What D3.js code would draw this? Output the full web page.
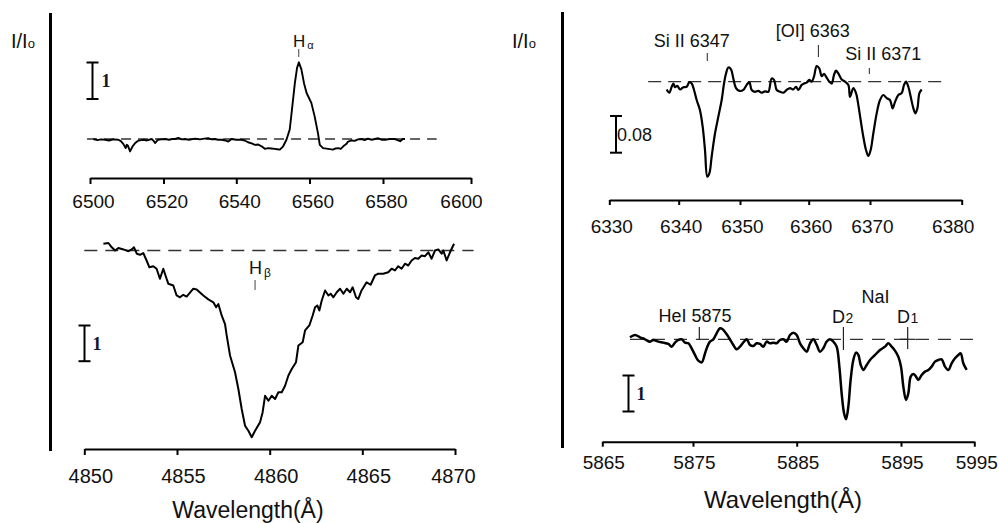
<!DOCTYPE html>
<html>
<head>
<meta charset="utf-8">
<script src="https://cdn.jsdelivr.net/npm/d3@7"></script>
<style>
  html, body { margin: 0; padding: 0; background: #fff; }
  svg { display: block; font-family: "Liberation Sans", Arial, sans-serif; }
</style>
</head>
<body>
<svg id="chart" width="999" height="523"></svg>
<script>
// ---- H-alpha region (relative intensity, continuum = 1) ----
const haWave = [6500.9,6502.0,6503.0,6504.1,6505.2,6506.3,6507.7,6508.4,6509.1,6509.7,6510.0,6510.3,6510.9,6511.6,6512.3,6513.2,6514.0,6514.6,6515.5,6516.8,6517.3,6517.7,6518.5,6519.4,6520.5,6521.5,6522.4,6523.2,6524.1,6525.0,6525.9,6527.0,6528.7,6530.0,6531.2,6532.3,6533.2,6534.1,6535.0,6536.0,6537.0,6537.8,6538.7,6540.0,6541.4,6542.3,6543.2,6544.2,6545.1,6546.0,6546.9,6547.8,6548.7,6549.6,6550.5,6551.2,6551.9,6552.8,6553.7,6554.6,6555.2,6556.0,6556.6,6557.1,6557.8,6558.5,6559.2,6560.5,6561.4,6562.3,6562.8,6563.7,6565.1,6566.4,6567.1,6567.8,6568.5,6569.2,6570.0,6570.5,6571.5,6572.3,6573.2,6574.2,6575.0,6575.9,6576.9,6577.8,6578.7,6579.6,6580.5,6581.5,6582.7,6583.3,6583.9,6584.5,6585.0];
const haFlux = [1.00,0.97,0.99,0.98,0.96,0.99,0.98,0.94,0.86,0.75,0.84,0.82,0.66,0.80,0.89,0.96,0.97,0.98,0.96,1.00,0.95,0.89,0.98,0.99,1.00,0.98,1.00,1.00,1.03,0.99,1.00,0.98,1.01,0.99,1.01,1.02,0.99,1.00,0.98,0.98,0.96,0.93,1.00,0.98,0.98,0.96,0.91,0.88,0.84,0.85,0.80,0.73,0.75,0.74,0.73,0.72,0.71,0.80,0.98,1.26,1.80,2.53,2.95,3.10,2.90,2.53,2.26,1.99,1.62,1.16,0.84,0.75,0.73,0.71,0.74,0.75,0.73,0.80,0.86,0.93,0.96,0.95,0.99,1.00,0.97,1.01,0.98,1.00,1.02,0.98,0.98,1.00,1.00,0.97,0.94,1.00,1.00];

// ---- H-beta region ----
const hbWave = [4851.03,4851.30,4851.48,4851.66,4851.84,4852.11,4852.38,4852.56,4852.68,4852.83,4853.01,4853.18,4853.36,4853.51,4853.72,4853.90,4854.08,4854.26,4854.41,4854.53,4854.80,4854.98,4855.16,4855.34,4855.52,4855.88,4856.06,4856.42,4856.69,4856.96,4857.11,4857.23,4857.41,4857.59,4857.68,4857.86,4858.13,4858.31,4858.49,4858.67,4858.85,4859.03,4859.21,4859.48,4859.62,4859.75,4859.93,4860.11,4860.29,4860.47,4860.65,4860.83,4861.01,4861.19,4861.42,4861.55,4861.78,4861.91,4862.14,4862.32,4862.45,4862.57,4862.68,4862.81,4862.99,4863.17,4863.29,4863.44,4863.62,4863.80,4863.98,4864.16,4864.34,4864.48,4864.66,4864.78,4864.96,4865.23,4865.45,4865.68,4865.86,4866.13,4866.40,4866.58,4866.76,4866.94,4867.12,4867.30,4867.48,4867.66,4867.84,4868.02,4868.20,4868.38,4868.56,4868.74,4868.92,4869.10,4869.28,4869.37,4869.55,4869.73,4869.95];
const hbFlux = [1.19,1.21,1.09,1.00,1.07,1.03,0.98,1.03,1.09,0.91,0.88,0.93,0.72,0.53,0.56,0.49,0.21,0.49,0.25,0.07,0.02,-0.26,-0.31,-0.24,-0.29,-0.07,-0.09,-0.26,-0.37,-0.45,-0.59,-0.50,-0.82,-1.06,-1.38,-1.94,-2.41,-2.88,-3.44,-3.91,-4.05,-4.23,-4.05,-3.81,-3.53,-3.07,-3.21,-3.07,-3.16,-2.97,-2.97,-2.79,-2.50,-2.32,-2.13,-1.66,-1.57,-1.24,-1.10,-0.82,-0.59,-0.54,-0.68,-0.40,-0.12,-0.26,-0.21,-0.31,-0.17,-0.07,-0.21,-0.07,-0.17,-0.03,-0.31,-0.36,-0.12,0.11,0.04,0.30,0.35,0.35,0.39,0.49,0.44,0.56,0.49,0.63,0.58,0.72,0.79,0.77,0.86,0.84,0.95,0.77,1.00,1.03,0.91,1.00,0.72,0.95,1.19];

// ---- Si II / [O I] region (I/I0) ----
const siWave = [6338.27,6338.65,6338.99,6339.23,6339.47,6339.80,6340.21,6340.76,6341.30,6341.73,6342.12,6342.50,6342.93,6343.47,6343.91,6344.29,6344.67,6345.00,6345.38,6345.92,6346.47,6347.01,6347.39,6347.72,6348.10,6348.53,6348.91,6349.35,6349.89,6350.48,6350.97,6351.36,6351.70,6352.18,6352.67,6353.15,6353.64,6354.12,6354.61,6354.95,6355.34,6355.82,6356.31,6356.79,6357.28,6357.76,6358.15,6358.49,6358.98,6359.32,6359.70,6360.10,6360.48,6360.86,6361.30,6361.73,6362.12,6362.50,6362.93,6363.37,6363.75,6364.13,6364.45,6364.83,6365.38,6365.92,6366.47,6366.74,6367.28,6367.72,6368.10,6368.48,6368.91,6369.35,6369.73,6370.07,6370.36,6370.73,6371.09,6371.45,6371.82,6372.18,6372.47,6372.73,6373.09,6373.45,6373.71,6373.93,6374.18,6374.44,6374.73,6374.95,6375.17,6375.39,6375.64];
const siFlux = [0.983,0.976,0.989,0.996,0.988,0.991,0.983,0.988,0.989,0.999,0.996,0.982,0.960,0.938,0.902,0.851,0.793,0.800,0.837,0.887,0.924,0.960,0.996,1.018,1.031,1.027,1.007,0.986,0.980,0.982,0.993,0.999,0.982,0.978,0.980,0.976,0.979,0.978,1.007,1.004,0.982,0.978,0.976,0.982,0.986,0.983,0.989,0.982,0.993,0.996,0.998,1.004,1.000,1.011,1.034,1.029,1.012,1.017,1.009,1.000,0.996,1.015,1.024,1.018,1.005,1.000,0.993,0.967,0.986,0.975,0.949,0.916,0.880,0.851,0.838,0.851,0.887,0.931,0.960,0.971,0.964,0.960,0.942,0.956,0.971,0.975,0.993,1.000,0.989,0.967,0.942,0.931,0.942,0.975,0.983];

// ---- He I / Na I D region ----
const naWave = [5868.05,5868.61,5869.16,5869.71,5870.26,5870.63,5871.18,5871.73,5872.28,5872.65,5873.02,5873.38,5873.75,5874.12,5874.49,5874.85,5875.19,5875.51,5875.84,5876.16,5876.38,5876.64,5876.96,5877.28,5877.60,5877.86,5878.18,5878.50,5878.89,5879.21,5879.53,5879.92,5880.18,5880.50,5880.82,5881.14,5881.46,5881.78,5882.10,5882.43,5882.75,5883.07,5883.39,5883.71,5884.03,5884.35,5884.68,5885.00,5885.32,5885.64,5885.96,5886.28,5886.60,5886.92,5887.23,5887.55,5887.87,5888.19,5888.51,5888.83,5889.09,5889.31,5889.54,5889.73,5889.95,5890.17,5890.43,5890.69,5890.91,5891.14,5891.39,5891.71,5892.03,5892.51,5892.99,5893.47,5893.79,5894.11,5894.42,5894.74,5895.00,5895.32,5895.68,5896.00,5896.32,5896.68,5897.05,5897.36,5897.82,5898.27,5898.73,5899.18,5899.64,5900.09,5900.55,5901.00,5901.46,5901.91,5902.37,5902.82,5903.14,5903.50,5903.96];
const naFlux = [1.056,1.120,1.056,1.000,0.935,0.981,0.935,0.907,0.870,0.796,0.907,0.981,1.000,0.907,0.889,0.750,0.565,0.407,0.361,0.611,0.796,0.935,1.000,1.167,1.306,1.278,1.167,1.028,0.843,0.722,0.796,0.935,1.000,0.843,0.815,0.889,0.870,0.796,0.935,0.889,0.907,0.889,0.981,1.000,0.935,1.120,1.185,1.120,0.889,0.750,0.657,0.889,1.000,0.843,0.657,0.750,0.935,1.000,0.935,0.796,0.241,-0.500,-1.056,-1.222,-0.870,-0.130,0.426,0.630,0.565,0.287,0.148,0.287,0.426,0.565,0.704,0.796,0.889,0.796,0.685,0.519,0.241,-0.315,-0.685,-0.500,-0.037,0.037,-0.037,-0.130,0.009,0.102,0.148,0.241,0.380,0.426,0.444,0.241,0.148,0.333,0.472,0.565,0.611,0.333,0.148];

// ---- axis ticks ----
const haTicks = [6500, 6520, 6540, 6560, 6580, 6600];
const hbTicks = [4850, 4855, 4860, 4865, 4870];
const siTicks = [6330, 6340, 6350, 6360, 6370, 6380];
const naTicks = [5865, 5875, 5885, 5895, 5905];
const haTickLabels = ["6500", "6520", "6540", "6560", "6580", "6600"];
const hbTickLabels = ["4850", "4855", "4860", "4865", "4870"];
const siTickLabels = ["6330", "6340", "6350", "6360", "6370", "6380"];
const naTickLabels = ["5865", "5875", "5885", "5895", "5995"];

// ---- line identifications (observed positions, Angstrom) ----
const siLineNames = ["Si II 6347", "[OI] 6363", "Si II 6371"];
const siLineWave = [6344.66, 6361.58, 6369.89];
const naLineNames = ["HeI 5875", "D2", "D1"];
const naLineWave = [5875.61, 5889.48, 5895.91];
const haLineWave = 6557.07;
const hbLineWave = 4859.21;

const svg = d3.select("#chart");
const INK = "#111";

function drawPanel(p) {
  const x = d3.scaleLinear().domain(p.ticks).range(p.tickPx);
  const y = d3.scaleLinear().domain([1 - p.unit, 1]).range([p.contY + p.unitPx, p.contY]);

  // continuum level
  svg.append("line")
    .attr("x1", x(p.dash[0])).attr("x2", x(p.dash[1]))
    .attr("y1", y(1)).attr("y2", y(1))
    .attr("stroke", "#333").attr("stroke-width", 1.3)
    .attr("stroke-dasharray", p.dashArray);

  // spectrum
  const line = d3.line().x(d => x(d[0])).y(d => y(d[1])).curve(p.curve);
  svg.append("path")
    .datum(d3.zip(p.wave, p.flux))
    .attr("d", line)
    .attr("fill", "none")
    .attr("stroke", "#000")
    .attr("stroke-width", p.lineWidth)
    .attr("stroke-linejoin", "round");

  // wavelength axis
  const axis = d3.axisBottom(x)
    .tickValues(p.ticks)
    .tickFormat((d, i) => p.tickLabels[i])
    .tickSize(p.tickSize)
    .tickSizeOuter(0)
    .tickPadding(p.pad);
  const g = svg.append("g")
    .attr("transform", `translate(0,${p.axisY})`)
    .call(axis)
    .attr("font-family", null)
    .attr("font-size", p.fontSize);
  g.select(".domain").attr("stroke", "#000").attr("stroke-width", 2);
  g.selectAll(".tick line").attr("stroke", "#000").attr("stroke-width", 2);
  g.selectAll(".tick text")
    .attr("fill", INK)
    .attr("dx", (d, i, n) => i === n.length - 1 ? p.lastDx : p.labelDx);

  // intensity scale bar
  const barLen = y(1 - p.unit) - y(1);
  const bar = svg.append("g").attr("stroke", "#000").attr("stroke-width", 2);
  bar.append("line").attr("x1", p.bar.x).attr("x2", p.bar.x).attr("y1", p.bar.top).attr("y2", p.bar.top + barLen);
  [p.bar.top, p.bar.top + barLen].forEach(v =>
    bar.append("line").attr("x1", p.bar.x - 6).attr("x2", p.bar.x + 6).attr("y1", v).attr("y2", v));
  const bl = svg.append("text")
    .attr("x", p.bar.x + p.bar.labelDx)
    .attr("y", p.bar.top + barLen / 2)
    .attr("dy", "0.35em")
    .attr("fill", p.bar.serif ? "#14142b" : INK)
    .attr("font-size", 18)
    .text(p.bar.label);
  if (p.bar.serif) bl.attr("font-family", "'Liberation Serif', 'DejaVu Serif', serif").attr("font-weight", "bold");

  return { x, y };
}

// left axis frame lines
svg.append("line").attr("x1", 50.5).attr("x2", 50.5).attr("y1", 13).attr("y2", 451)
  .attr("stroke", "#000").attr("stroke-width", 3);
svg.append("line").attr("x1", 562.5).attr("x2", 562.5).attr("y1", 12).attr("y2", 448)
  .attr("stroke", "#000").attr("stroke-width", 3);

// I/I0 labels
function ratioLabel(xp) {
  const t = svg.append("text").attr("x", xp).attr("y", 48).attr("font-size", 20).attr("fill", INK).text("I/I");
  t.append("tspan").attr("font-size", 13).attr("dy", 0).text("o");
}
ratioLabel(11);
ratioLabel(512);

// ---- panel: H-alpha ----
const pa = drawPanel({
  wave: haWave, flux: haFlux, ticks: haTicks, tickLabels: haTickLabels,
  tickPx: [90, 163.5, 236.3, 309.5, 383, 471],
  contY: 139, unitPx: 36.5, unit: 1,
  dash: [6499.2, 6592.2], dashArray: "10,7",
  curve: d3.curveLinear, lineWidth: 1.9,
  axisY: 178, tickSize: 6, pad: 11, fontSize: 19, labelDx: 3, lastDx: -10,
  bar: { x: 92.5, top: 62.5, label: "1", labelDx: 9, serif: true }
});
svg.append("line").attr("x1", pa.x(haLineWave)).attr("x2", pa.x(haLineWave))
  .attr("y1", 49).attr("y2", 57).attr("stroke", "#444").attr("stroke-width", 1);
const haLbl = svg.append("text").attr("x", 293).attr("y", 47).attr("font-size", 17).attr("fill", INK).text("H");
haLbl.append("tspan").attr("font-size", 11).attr("dx", 2).attr("dy", 2).text("α");

// ---- panel: H-beta ----
const pb = drawPanel({
  wave: hbWave, flux: hbFlux, ticks: hbTicks, tickLabels: hbTickLabels,
  tickPx: [84.3, 177, 269.7, 362.3, 455],
  contY: 250.5, unitPx: 35.7, unit: 1,
  dash: [4850, 4871], dashArray: "13,8",
  curve: d3.curveLinear, lineWidth: 2,
  axisY: 449, tickSize: 6, pad: 14, fontSize: 20, labelDx: 6, lastDx: -2,
  bar: { x: 84.5, top: 325.5, label: "1", labelDx: 8, serif: true }
});
svg.append("line").attr("x1", pb.x(hbLineWave)).attr("x2", pb.x(hbLineWave))
  .attr("y1", 280).attr("y2", 290).attr("stroke", "#444").attr("stroke-width", 1);
const hbLbl = svg.append("text").attr("x", 249).attr("y", 274).attr("font-size", 18).attr("fill", INK).text("H");
hbLbl.append("tspan").attr("font-size", 12).attr("dx", 2).attr("dy", 3).text("β");

// ---- panel: Si II ----
const pc = drawPanel({
  wave: siWave, flux: siFlux, ticks: siTicks, tickLabels: siTickLabels,
  tickPx: [609.3, 678.7, 740, 808.7, 870, 961.7],
  contY: 81.7, unitPx: 36.7, unit: 0.08,
  dash: [6335.6, 6378.1], dashArray: "13,7",
  curve: d3.curveCatmullRom.alpha(0.5), lineWidth: 2.2,
  axisY: 200, tickSize: 5, pad: 15, fontSize: 19, labelDx: 2, lastDx: -9,
  bar: { x: 616, top: 116, label: "0.08", labelDx: 1, serif: false }
});
const siMarks = [[53, 61], [45, 57], [68, 74]];
const siText = [[691.8, 47], [812.8, 37], [883.3, 60]];
siLineWave.forEach((w, i) => {
  svg.append("line").attr("x1", pc.x(w)).attr("x2", pc.x(w))
    .attr("y1", siMarks[i][0]).attr("y2", siMarks[i][1]).attr("stroke", "#222").attr("stroke-width", 1);
  svg.append("text").attr("x", siText[i][0]).attr("y", siText[i][1]).attr("text-anchor", "middle")
    .attr("font-size", 18).attr("fill", INK).text(siLineNames[i]);
});

// ---- panel: Na I D ----
const pd = drawPanel({
  wave: naWave, flux: naFlux, ticks: naTicks, tickLabels: naTickLabels,
  tickPx: [602.3, 693, 796.7, 901, 974.3],
  contY: 339.3, unitPx: 36, unit: 1,
  dash: [5868.05, 5904.9], dashArray: "13,9",
  curve: d3.curveCatmullRom.alpha(0.5), lineWidth: 2.5,
  axisY: 441.7, tickSize: 5, pad: 9, fontSize: 19, labelDx: 1, lastDx: 2,
  bar: { x: 628.5, top: 375.5, label: "1", labelDx: 8, serif: true }
});
const naMarks = [[327, 340], [327, 350], [327, 349]];
naLineWave.forEach((w, i) => {
  svg.append("line").attr("x1", pd.x(w)).attr("x2", pd.x(w))
    .attr("y1", naMarks[i][0]).attr("y2", naMarks[i][1]).attr("stroke", "#222").attr("stroke-width", 1.2);
});
// cross bar on the D1 mark
svg.append("line").attr("x1", pd.x(naLineWave[2]) - 8).attr("x2", pd.x(naLineWave[2]) + 8)
  .attr("y1", pd.y(1)).attr("y2", pd.y(1)).attr("stroke", "#222").attr("stroke-width", 1.2);
svg.append("text").attr("x", 695).attr("y", 322).attr("text-anchor", "middle")
  .attr("font-size", 18).attr("fill", INK).text(naLineNames[0]);
svg.append("text").attr("x", 875.5).attr("y", 303).attr("text-anchor", "middle")
  .attr("font-size", 18).attr("fill", INK).text("NaI");
[["D", "2", 832], ["D", "1", 897]].forEach(([a, b, xp]) => {
  const t = svg.append("text").attr("x", xp).attr("y", 323).attr("font-size", 18).attr("fill", INK).text(a);
  t.append("tspan").attr("font-size", 14).attr("dx", 0.5).text(b);
});

// axis titles
svg.append("text").attr("x", 248).attr("y", 518).attr("text-anchor", "middle")
  .attr("font-size", 23).attr("fill", INK).text("Wavelength(Å)");
svg.append("text").attr("x", 783).attr("y", 508).attr("text-anchor", "middle")
  .attr("font-size", 24).attr("fill", INK).text("Wavelength(Å)");
</script>
</body>
</html>
